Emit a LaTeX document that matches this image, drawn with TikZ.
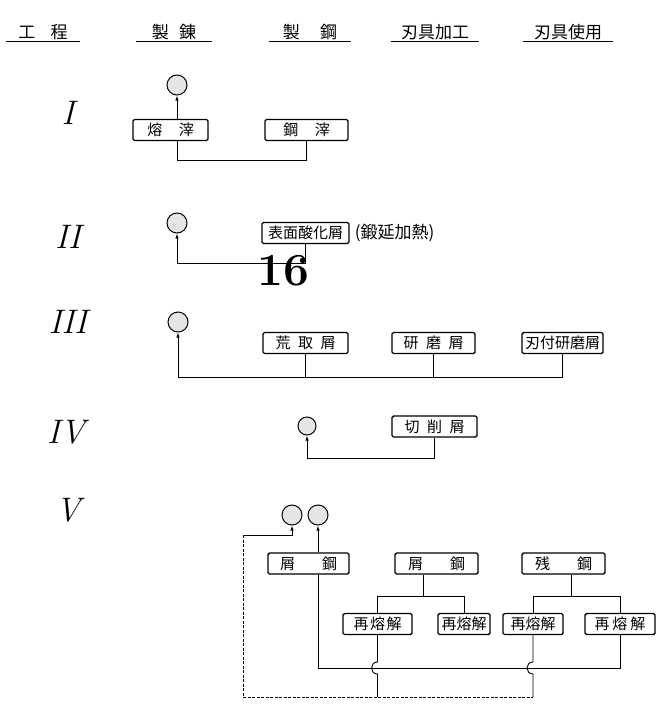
\documentclass[tikz,border=0pt]{standalone}
\usepackage{fontspec}
\newfontfamily\jp{Noto Sans CJK JP}
\usepackage{tikz}
\usetikzlibrary{arrows.meta,positioning,calc}
\tikzset{
  chip/.style={draw,line width=1.4pt,rounded corners=1.5pt,minimum height=21pt,inner sep=1pt,font=\jp\fontsize{15}{15}\selectfont},
  gauge/.style={draw,circle,line width=1pt,minimum size=20pt,inner sep=0pt,fill=black!10},
  head/.style={inner xsep=0pt,inner ysep=1.5pt,font=\jp\fontsize{17}{17}\selectfont},
  stage/.style={font=\itshape\fontsize{34}{34}\selectfont},
  note/.style={font=\jp\fontsize{17}{17}\selectfont,inner sep=0pt},
  stamp/.style={font=\bfseries\fontsize{46}{46}\selectfont,inner sep=0pt},
  link/.style={line width=0.9pt},
  arr/.style={link,-{Latex[length=5pt,width=3.5pt]}},
  faint/.style={line width=0.7pt,dash pattern=on 3pt off 1.5pt},
  rule/.style={line width=1.3pt}
}
\begin{document}
\begin{tikzpicture}[x=1pt,y=-1pt]
\useasboundingbox (0,0) rectangle (658,704);
% column heads
\node[head,minimum width=74pt] (h1) at (43,32) {工\hspace{0.9em}程};
\node[head,minimum width=76pt] (h2) at (174,32) {製\hspace{0.6em}錬};
\node[head,minimum width=82pt] (h3) at (310,32) {製\hspace{1.2em}鋼};
\node[head,minimum width=88pt] (h4) at (435,32) {刃具加工};
\node[head,minimum width=90pt] (h5) at (568,32) {刃具使用};
\foreach \h in {h1,h2,h3,h4,h5} \draw[rule] (\h.south west) -- (\h.south east);
% stage numbers
\node[stage] (s1) at (68,113) {I};
\node[stage] (s2) at (68,237) {II};
\node[stage] (s3) at (68,322) {III};
\node[stage] (s4) at (66,432) {IV};
\node[stage] (s5) at (68,510) {V};
% stage I
\node[chip,minimum width=75pt] (slag) at (170.5,130) {熔\hspace{1.1em}滓};
\node[chip,minimum width=83pt] (steelslag) at (306.5,130) {鋼\hspace{1.1em}滓};
\node[gauge] (g1) at (177,85) {};
\draw[arr] (slag.north -| g1) -- (g1);
\draw[link] (slag.south -| g1) -- ++(0,19) -| (steelslag.south);
% stage II
\node[gauge] (g2) at (177,223) {};
\node[chip,minimum width=87pt] (oxide) at (305.5,233) {表面酸化屑};
\node[note,right=5pt of oxide] (forge) {(鍛延加熱)};
\draw[arr] (oxide.south) -- ++(0,19) -| (g2);
\node[stamp] (pagenum) at (283,271) {16};
% stage III
\node[gauge] (g3) at (178,322) {};
\node[chip,minimum width=85pt] (rough) at (305.5,343) {荒\hspace{0.5em}取\hspace{0.5em}屑};
\node[chip,minimum width=83pt] (grind) at (433.5,343) {研\hspace{0.5em}磨\hspace{0.5em}屑};
\node[chip,minimum width=81pt] (edge) at (562.5,343) {刃付研磨屑};
\coordinate (bus3) at (0,377);
\draw[arr] (edge.south) -- (edge.south |- bus3) -| (g3);
\draw[link] (rough.south) -- (rough.south |- bus3);
\draw[link] (grind.south) -- (grind.south |- bus3);
% stage IV
\node[gauge,minimum size=18pt] (g4) at (307,426) {};
\node[chip,minimum width=85pt] (cut) at (434.5,426.5) {切\hspace{0.5em}削\hspace{0.5em}屑};
\draw[arr] (cut.south) -- ++(0,21) -| (g4);
% stage V
\node[gauge] (g5a) at (292,515) {};
\node[gauge] (g5b) at (318,515) {};
\node[chip,minimum width=81pt] (scrapA) at (308.5,563.5) {屑\hspace{1.8em}鋼};
\node[chip,minimum width=83pt] (scrapB) at (436.5,563.5) {屑\hspace{1.8em}鋼};
\node[chip,minimum width=83pt] (rest) at (563.5,563.5) {残\hspace{1.8em}鋼};
\node[chip,minimum width=69pt] (remA) at (377.5,624) {再\hspace{0.1em}熔\hspace{0.1em}解};
\node[chip,minimum width=52pt] (remB) at (464,624) {再熔解};
\node[chip,minimum width=60pt] (remC) at (533,624) {再熔解};
\node[chip,minimum width=70pt] (remD) at (620,624) {再\hspace{0.2em}熔\hspace{0.2em}解};
\coordinate (busV) at (0,596);
\coordinate (loop) at (0,668);
\coordinate (floor) at (0,697);
\coordinate (rail) at (243,535);
\coordinate (tapB) at ([xshift=-13pt]scrapB.south);
\coordinate (tapR) at ([xshift=7.5pt]rest.south);
\draw[arr] (scrapA.north -| g5b) -- (g5b);
\draw[arr] (rail) -- (rail -| g5a) -- (g5a);
\draw[faint] (rail) -- (rail |- floor) -- (floor -| remC);
\draw[link] (tapB) -- (tapB |- busV);
\draw[link] (remA.north) |- (remB.north |- busV) -- (remB.north);
\draw[link] (tapR) -- (tapR |- busV);
\draw[link] (remC.north) |- (remD.north |- busV) -- (remD.north);
\draw[link] (scrapA.south -| g5b) -- (g5b |- loop) -- (loop -| remD) -- (remD.south);
\foreach \r in {remA,remC}
  \draw[link] (\r.south) -- ($(\r.south |- loop)+(0,-6)$)
    .. controls +(-8,0) and +(-8,0) .. ($(\r.south |- loop)+(0,6)$) -- (\r.south |- floor);
\end{tikzpicture}
\end{document}
